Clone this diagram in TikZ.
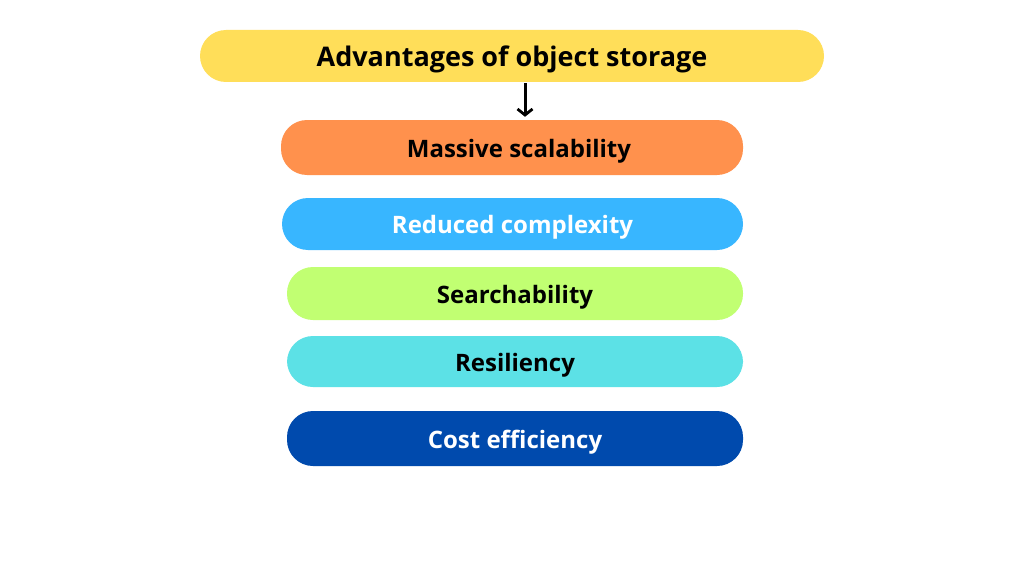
\documentclass[tikz,border=0pt]{standalone}
\usepackage{fontspec}
\setmainfont{Open Sans}
\usetikzlibrary{arrows.meta}
\definecolor{cyellow}{HTML}{FFDE59}
\definecolor{corange}{HTML}{FF914D}
\definecolor{cblue}{HTML}{38B6FF}
\definecolor{cgreen}{HTML}{C1FF72}
\definecolor{ccyan}{HTML}{5CE1E6}
\definecolor{cdark}{HTML}{004AAD}
\newcommand{\lowtxt}[1]{\raisebox{0pt}[\dimexpr\height+7pt\relax][\depth]{#1}}
\begin{document}
\begin{tikzpicture}[x=1pt,y=-1pt,
  pill/.style={rectangle,rounded corners=26pt,draw=none,inner sep=0pt,
    font=\fontsize{24}{28}\selectfont\bfseries,text=black},
  arr/.style={-{Straight Barb[length=6pt,width=15pt,line width=2.8pt]},line width=3pt,black,shorten <=1pt,shorten >=3pt}]
\useasboundingbox[fill=white] (0,0) rectangle (1024,575);
\node[pill,fill=cyellow,minimum width=624pt,minimum height=52pt,font=\fontsize{27}{32}\selectfont\bfseries] (title) at (512,56) {\lowtxt{Advantages of object storage}};
\node[pill,fill=corange,minimum width=462pt,minimum height=55pt] (massive) at (512,147.5) {\hspace*{14pt}\lowtxt{Massive scalability}};
\node[pill,fill=cblue,minimum width=461pt,minimum height=52pt,text=white] (reduced) at (512.5,224) {\lowtxt{Reduced complexity}};
\node[pill,fill=cgreen,minimum width=456pt,minimum height=53pt] (search) at (515,293.5) {\lowtxt{Searchability}};
\node[pill,fill=ccyan,minimum width=456pt,minimum height=51pt] (resil) at (515,361.5) {\lowtxt{Resiliency}};
\node[pill,fill=cdark,minimum width=456pt,minimum height=55pt,text=white] (cost) at (515,438.5) {\lowtxt{Cost efficiency}};
\draw[arr] ([xshift=13pt]title.south) -- ([xshift=13pt]massive.north);
\end{tikzpicture}
\end{document}
